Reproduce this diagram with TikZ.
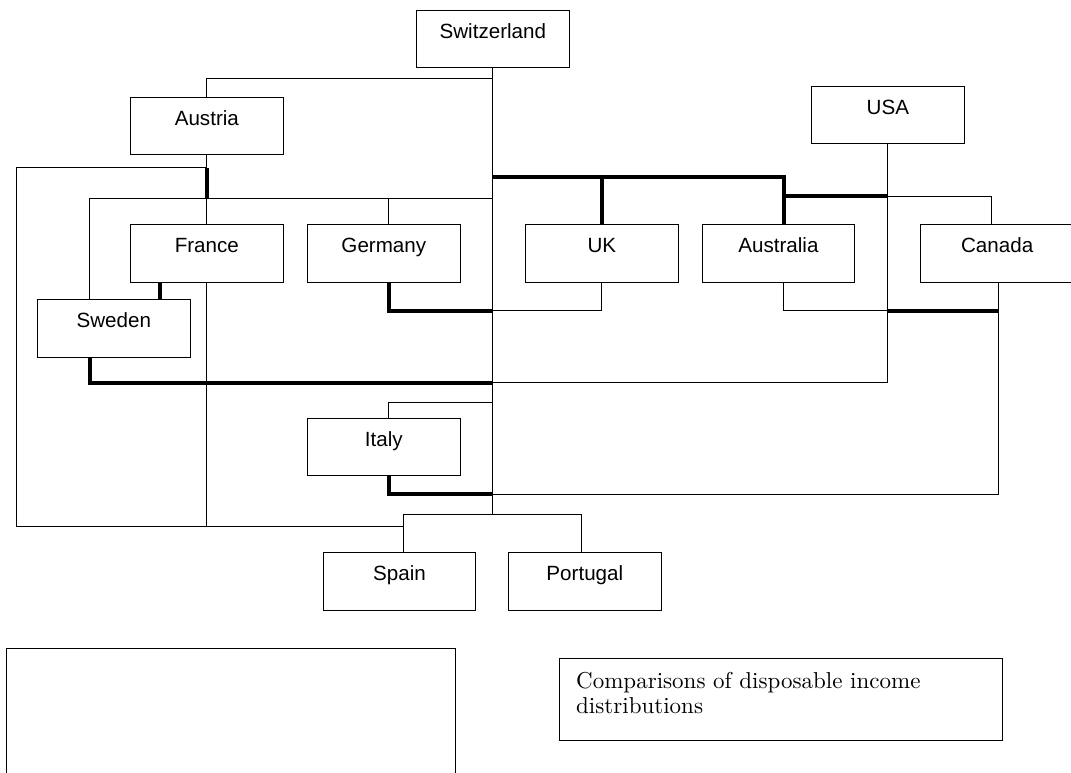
\documentclass[tikz,border=0pt]{standalone}
\usepackage{fontspec}
\newfontfamily\arialf{Liberation Sans}
\newfontfamily\lmten{lmroman10-regular.otf}
\tikzset{
  cbox/.style={draw, line width=1pt, rectangle, inner sep=0pt, minimum width=152.7pt,
    text height=28pt, text depth=29.3pt, anchor=north west,
    font=\arialf\fontsize{20.6}{24}\selectfont},
  thinl/.style={line width=0.95pt},
  thickl/.style={line width=4pt},
}
\begin{document}
\begin{tikzpicture}[x=1pt,y=-1pt]
\useasboundingbox (0,0) rectangle (1071,772);
\fill[white] (0,0) rectangle (1071,772);
\clip (0,0) rectangle (1071,772);

% country boxes
\node[cbox] (sui) at (416,10) {Switzerland};
\node[cbox] (aut) at (130,97) {Austria};
\node[cbox] (usa) at (811,86) {USA};
\node[cbox] (fra) at (130,224.3) {France};
\node[cbox] (ger) at (307,224.3) {Germany};
\node[cbox] (uk) at (525,224.3) {UK};
\node[cbox] (aus) at (701.6,224.3) {Australia};
\node[cbox] (can) at (920.3,224.3) {Canada};
\node[cbox] (swe) at (37,299.3) {Sweden};
\node[cbox] (ita) at (307,417.7) {Italy};
\node[cbox] (spa) at (322.7,552.3) {Spain};
\node[cbox] (por) at (508,552.3) {Portugal};

% empty box and caption box
\node[draw, line width=1pt, anchor=north west, minimum width=449pt, minimum height=160pt, inner sep=0pt] (blank) at (6,648.3) {};
\node[draw, line width=1pt, anchor=north west, minimum width=442.4pt, minimum height=81.7pt, inner sep=0pt] (note) at (559.3,658.3) {};
\node[anchor=north west, inner sep=0pt, align=left, font=\lmten\fontsize{23}{25}\selectfont] (notetext) at (576,672.3) {Comparisons of disposable income\\distributions};

% connector attachment points
\coordinate (fraB2) at ([xshift=-47.35pt]fra.south);
\coordinate (gerT) at ([xshift=4.7pt]ger.north);
\coordinate (gerB) at ([xshift=4.7pt]ger.south);
\coordinate (ausT) at ([xshift=5.4pt]aus.north);
\coordinate (ausB) at ([xshift=5.4pt]aus.south);
\coordinate (canT) at ([xshift=-5.6pt]can.north);
\coordinate (canB) at ([xshift=1.6pt]can.south);
\coordinate (sweT) at ([xshift=-23.9pt]swe.north);
\coordinate (sweB) at ([xshift=-23.4pt]swe.south);
\coordinate (itaT) at ([xshift=4.7pt]ita.north);
\coordinate (itaB) at ([xshift=4.7pt]ita.south);
\coordinate (spaT) at ([xshift=3.7pt]spa.north);
\coordinate (porT) at ([xshift=-3pt]por.north);

% levels
\coordinate (yAut) at (0,78.7);
\coordinate (yLoop) at (0,167.5);
\coordinate (yUK) at (0,177.3);
\coordinate (yUSA) at (0,196);
\coordinate (yThin) at (0,198.5);
\coordinate (yLow) at (0,310.7);
\coordinate (ySwe) at (0,382.7);
\coordinate (yItT) at (0,402.7);
\coordinate (yItB) at (0,494);
\coordinate (ySP) at (0,514.3);
\coordinate (yBot) at (0,526.5);
\coordinate (xLoop) at (16.5,0);

% trunk
\draw[thinl] (sui.south) -- (sui.south |- ySP);
% Switzerland - Austria
\draw[thinl] (sui.south |- yAut) -| (aut.north);
% Austria down
\draw[thinl] (aut.south) -- (aut.south |- yLoop);
\draw[thickl] (aut.south |- yLoop) -- (aut.south |- yThin);
% outer loop
\draw[thinl] (aut.south |- yLoop) -- (xLoop |- yLoop) -- (xLoop |- yBot) -- (spaT |- yBot);
% France bottom
\draw[thinl] (fra.south) -- (fra.south |- yBot);
% thin level under Austria
\draw[thinl] (sui.south |- yThin) -- (sweT |- yThin) -- (sweT);
\draw[thinl] (fra.north |- yThin) -- (fra.north);
\draw[thinl] (gerT |- yThin) -- (gerT);
% France - Sweden
\draw[thickl] (fraB2) -- (fraB2 |- swe.north);
% Germany - UK
\draw[thickl] (gerB) -- (gerB |- yLow) -- (sui.south |- yLow);
\draw[thinl] (sui.south |- yLow) -| (uk.south);
% UK / Australia top
\draw[thickl] (sui.south |- yUK) -- (ausT |- yUK) -- (ausT);
\draw[thickl] (uk.north |- yUK) -- (uk.north);
\draw[thickl] (ausT |- yUSA) -- (usa.south |- yUSA);
\draw[thinl] (usa.south |- yUSA) -| (canT);
% USA vertical
\draw[thinl] (usa.south) -- (usa.south |- ySwe);
% Australia bottom
\draw[thinl] (ausB) -- (ausB |- yLow) -- (usa.south |- yLow);
% Canada bottom
\draw[thickl] (usa.south |- yLow) -- (canB |- yLow);
\draw[thinl] (canB) -- (canB |- yItB);
% Sweden bottom
\draw[thickl] (sweB) -- (sweB |- ySwe) -- (sui.south |- ySwe);
\draw[thinl] (sui.south |- ySwe) -- (usa.south |- ySwe);
% Italy
\draw[thinl] (itaT) -- (itaT |- yItT) -- (sui.south |- yItT);
\draw[thickl] (itaB) -- (itaB |- yItB) -- (sui.south |- yItB);
\draw[thinl] (sui.south |- yItB) -- (canB |- yItB);
% Spain / Portugal
\draw[thinl] (spaT) -- (spaT |- ySP) -- (porT |- ySP) -- (porT);
\end{tikzpicture}
\end{document}
